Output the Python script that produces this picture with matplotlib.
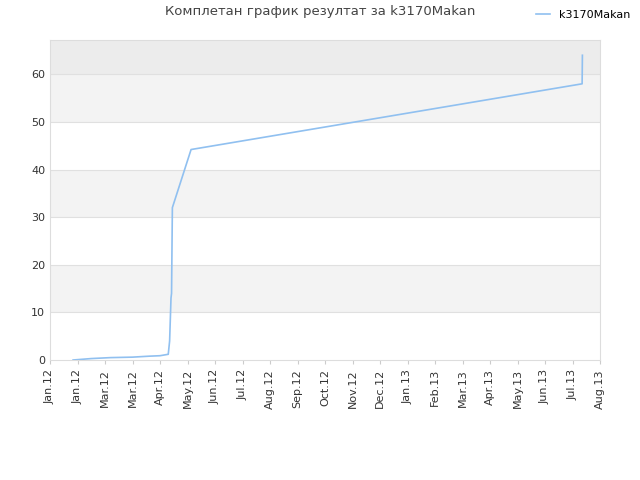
import matplotlib
matplotlib.use("Agg")
import matplotlib.pyplot as plt

tick_labels = ["Jan.12","Jan.12","Mar.12","Mar.12","Apr.12","May.12","Jun.12","Jul.12","Aug.12","Sep.12","Oct.12","Nov.12","Dec.12","Jan.13","Feb.13","Mar.13","Apr.13","May.13","Jun.13","Jul.13","Aug.13"]
xs = [0.84, 1.5, 2.2, 3.0, 3.6, 4.0, 4.3, 4.35, 4.4, 4.42, 4.45, 5.13, 19.35, 19.36]
ys = [0.0, 0.3, 0.5, 0.6, 0.8, 0.9, 1.2, 4.0, 13.0, 14.0, 32.0, 44.2, 58.0, 64.0]

fig = plt.figure(figsize=(6.4, 4.8), dpi=100)
ax = fig.add_axes([50/640, 120/480, 550/640, 320/480])
ymax = 67.2
for lo, hi, c in [(10,20,"#f3f3f3"),(30,40,"#f3f3f3"),(50,60,"#f3f3f3"),(60,ymax,"#ececec")]:
    ax.axhspan(lo, hi, color=c, lw=0, zorder=0)
for y in range(10, 70, 10):
    ax.axhline(y, color="#e0e0e0", lw=0.8, zorder=1)
ax.plot(xs, ys, color="#90c0f0", lw=1.2, label="k3170Makan", zorder=3)
ax.set_xlim(0, 20)
ax.set_ylim(0, ymax)
ax.set_xticks(range(len(tick_labels)))
ax.set_xticklabels(tick_labels, rotation=90, fontsize=8, color="#333333")
ax.set_yticks(range(0, 70, 10))
ax.tick_params(axis="y", labelsize=8, colors="#333333", length=0)
ax.tick_params(axis="x", length=3, color="#cccccc")
for s in ax.spines.values():
    s.set_color("#dddddd")
fig.text(0.5, 1-12/480, "Комплетан график резултат за k3170Makan", ha="center", va="center", fontsize=9.5, color="#444444")
fig.legend(loc="upper right", bbox_to_anchor=(1.0, 1.0), frameon=False, fontsize=8, handlelength=1.2)
fig.savefig("out.png", dpi=100)
